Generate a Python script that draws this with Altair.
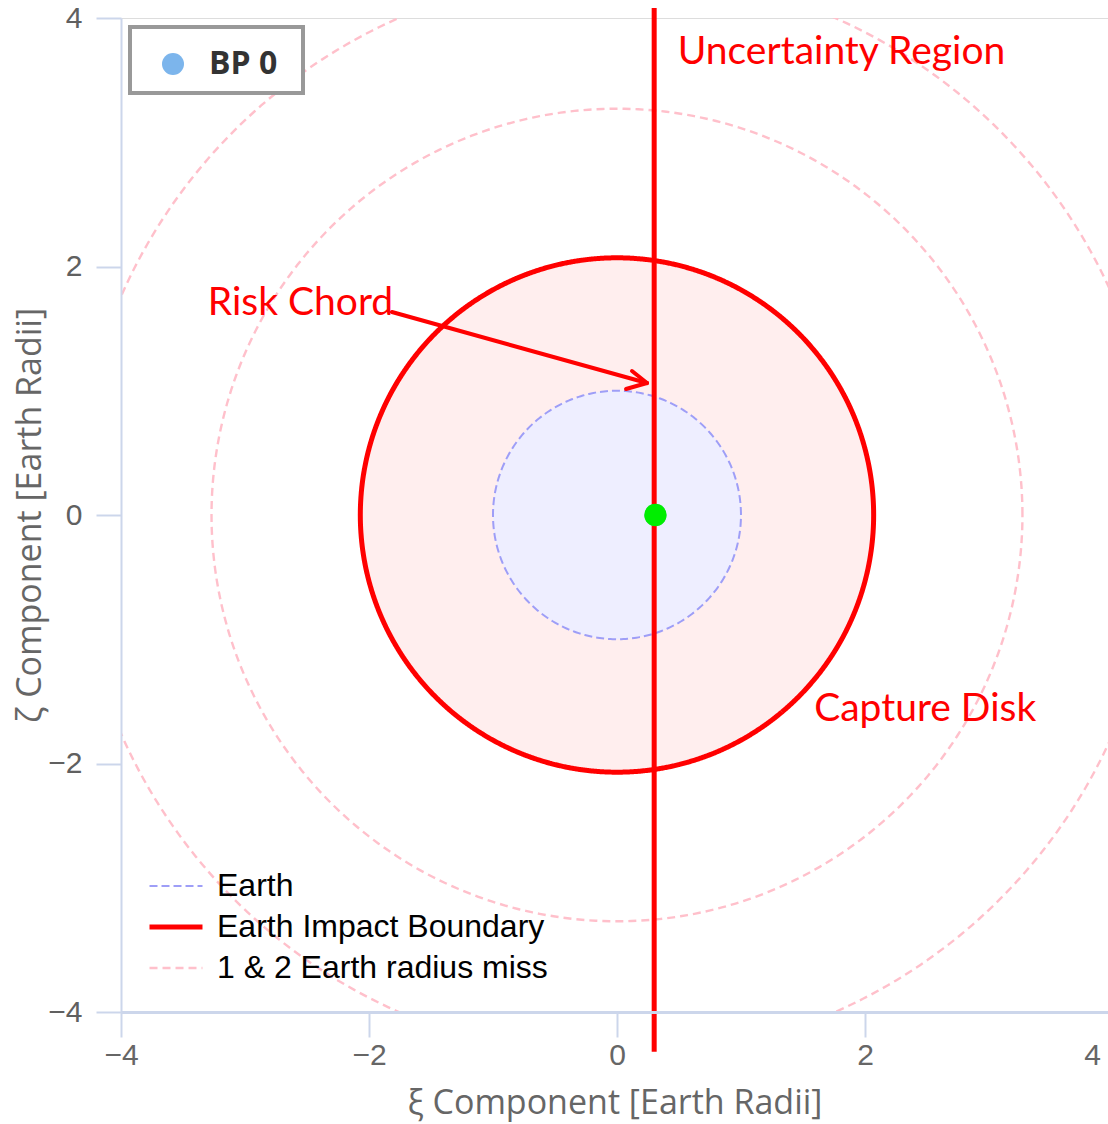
import numpy as np
import pandas as pd
import altair as alt

# --- chart values -----------------------------------------------------------
ring_names = ["Earth", "Earth Impact Boundary", "1 & 2 Earth radius miss", "1 & 2 Earth radius miss"]
ring_ids = ["earth", "impact", "miss1", "miss2"]
ring_radius = [1.0, 2.07, 3.27, 4.37]          # Earth radii

series_order = ["Earth", "Earth Impact Boundary", "1 & 2 Earth radius miss"]
series_colors = ["#9e9ef7", "#ff0000", "#ffc0cb"]
series_dash = [[8, 4], [1, 0], [8, 5]]
series_width = [2, 5, 2.4]

fill_ids = ["impact", "earth"]
fill_radius = [2.07, 1.0]
fill_colors = ["#ffeeee", "#eeeeff"]

bp_label = ["BP 0"]
bp_xi = [0.31]
bp_zeta = [0.0]

chord_xi = [0.30]
chord_top = [4.08]
chord_bottom = [-4.32]

arrow_seg = ["shaft", "shaft", "barb_a", "barb_a", "barb_b", "barb_b"]
arrow_xi = [-1.815, 0.242, 0.121, 0.242, 0.073, 0.242]
arrow_zeta = [1.634, 1.062, 1.159, 1.062, 1.014, 1.062]

note_text = ["Uncertainty Region", "Risk Chord", "Capture Disk"]
note_xi = [0.49, -3.30, 1.59]
note_zeta = [3.73, 1.71, -1.56]

x_ticks = [-4, -2, 0, 2, 3.9]
y_ticks = [-4, -2, 0, 2, 4]

# --- tables -----------------------------------------------------------------
theta = np.linspace(0, 2 * np.pi, 361)
ring_rows = []
for name, rid, r in zip(ring_names, ring_ids, ring_radius):
    for i, t in enumerate(theta):
        ring_rows.append({"series": name, "ring": rid, "i": i,
                          "xi": r * np.cos(t), "zeta": r * np.sin(t)})
rings = pd.DataFrame(ring_rows)

half = np.linspace(0, np.pi, 241)
fill_rows = []
for rid, r in zip(fill_ids, fill_radius):
    for t in half:
        fill_rows.append({"disk": rid, "xi": r * np.cos(t),
                          "top": r * np.sin(t), "bottom": -r * np.sin(t)})
fills = pd.DataFrame(fill_rows)

bp = pd.DataFrame({"bp": bp_label, "xi": bp_xi, "zeta": bp_zeta})
chord = pd.DataFrame({"xi": chord_xi, "top": chord_top, "bottom": chord_bottom})
arrow = pd.DataFrame({"seg": arrow_seg, "xi": arrow_xi, "zeta": arrow_zeta,
                      "k": list(range(len(arrow_seg)))})
notes = pd.DataFrame({"text": note_text, "xi": note_xi, "zeta": note_zeta})

# --- scales and guides ------------------------------------------------------
xs = alt.Scale(domain=[-4, 3.96], nice=False, zero=False)
ys = alt.Scale(domain=[-4, 4], nice=False, zero=False)

x_axis = alt.Axis(
    values=x_ticks, format="d", title="ξ Component [Earth Radii]", grid=False,
    domainColor="#ccd6eb", domainWidth=3,
    tickColor={"condition": {"test": "datum.value > 3", "value": "transparent"}, "value": "#ccd6eb"},
    tickSize=25, tickWidth=2, labelPadding=3,
    labelAlign={"condition": {"test": "datum.value > 3", "value": "right"}, "value": "center"},
    labelExpr="datum.value > 3 ? '4' : datum.label",
    labelFont="Liberation Sans", labelFontSize=30, labelColor="#666666",
    titleFont="Open Sans", titleFontSize=34, titleFontWeight="normal",
    titleColor="#666666", titlePadding=16, zindex=2,
)
y_axis = alt.Axis(
    values=y_ticks, format="d", title="ζ Component [Earth Radii]", grid=False,
    domainColor="#ccd6eb", domainWidth=2, tickColor="#ccd6eb",
    tickSize=25, tickWidth=2, labelPadding=14,
    labelFont="Liberation Sans", labelFontSize=30, labelColor="#606060",
    titleFont="Open Sans", titleFontSize=34, titleFontWeight="normal",
    titleColor="#666666", titlePadding=0, zindex=2,
)

line_legend = alt.Legend(
    title=None, orient="none", legendX=39, legendY=852,
    symbolType="M-2,0H2", symbolSize=702, symbolOffset=0,
    labelOffset=25, labelFont="Liberation Sans", labelFontSize=32,
    labelColor="#000000", labelLimit=0, rowPadding=9, padding=0,
)

# --- layers -----------------------------------------------------------------
disk_fill = alt.Chart(fills).mark_area(opacity=1, clip=True).encode(
    x=alt.X("xi:Q", scale=xs, axis=x_axis),
    y=alt.Y("top:Q", scale=ys, axis=y_axis),
    y2="bottom:Q",
    fill=alt.Fill("disk:N", scale=alt.Scale(domain=fill_ids, range=fill_colors), legend=None),
)

ring_lines = alt.Chart(rings).mark_line(clip=True).encode(
    x=alt.X("xi:Q", scale=xs),
    y=alt.Y("zeta:Q", scale=ys),
    detail="ring:N",
    order="i:Q",
    stroke=alt.Stroke("series:N", scale=alt.Scale(domain=series_order, range=series_colors), legend=line_legend),
    strokeDash=alt.StrokeDash("series:N", scale=alt.Scale(domain=series_order, range=series_dash), legend=line_legend),
    strokeWidth=alt.StrokeWidth("series:N", scale=alt.Scale(type="ordinal", domain=series_order, range=series_width), legend=line_legend),
)

chord_line = alt.Chart(chord).mark_rule(color="#ff0000", strokeWidth=5, clip=False).encode(
    x=alt.X("xi:Q", scale=xs),
    y=alt.Y("top:Q", scale=ys),
    y2="bottom:Q",
)

arrow_lines = alt.Chart(arrow).mark_line(color="#ff0000", strokeWidth=4, strokeCap="round", clip=False).encode(
    x=alt.X("xi:Q", scale=xs),
    y=alt.Y("zeta:Q", scale=ys),
    detail="seg:N",
    order="k:Q",
)

# frame of the series key in the top-left corner
key_frame = alt.Chart(bp).mark_rect(fill="#ffffff", stroke="#999999", strokeWidth=4).encode(
    x=alt.value(9), x2=alt.value(182), y=alt.value(9), y2=alt.value(75),
)

# the series key symbol is blue; the plotted point sits on top in green
bp_key = alt.Chart(bp).mark_point(filled=True, color="#7cb5ec", size=484, opacity=1).encode(
    x=alt.X("xi:Q", scale=xs),
    y=alt.Y("zeta:Q", scale=ys),
    shape=alt.Shape("bp:N", scale=alt.Scale(domain=bp_label, range=["circle"]),
                    legend=alt.Legend(
                        title=None, orient="none", legendX=9, legendY=11,
                        padding=19, symbolSize=484, symbolOffset=8,
                        labelOffset=20, labelFont="Open Sans", labelFontSize=32,
                        labelFontWeight="bold", labelColor="#333333", labelLimit=0,
                    )),
)

bp_point = alt.Chart(bp).mark_point(filled=True, color="#00ee00", size=500, opacity=1).encode(
    x=alt.X("xi:Q", scale=xs),
    y=alt.Y("zeta:Q", scale=ys),
)

note_marks = alt.Chart(notes).mark_text(
    color="#ff0000", font="Lato", fontSize=39, align="left", baseline="middle", clip=False
).encode(
    x=alt.X("xi:Q", scale=xs),
    y=alt.Y("zeta:Q", scale=ys),
    text="text:N",
)

chart = alt.layer(
    disk_fill, ring_lines, chord_line, arrow_lines, key_frame, bp_key, bp_point, note_marks
).properties(
    width=987, height=994,
    padding={"left": 121, "top": 18, "right": 0, "bottom": 112},
    autosize=alt.AutoSizeParams(type="none"),
).configure_view(
    stroke="#c0c0c0", strokeWidth=3
).configure(
    background="#ffffff"
)

chart.save("out.html", embed_options={"renderer": "svg", "actions": False})
